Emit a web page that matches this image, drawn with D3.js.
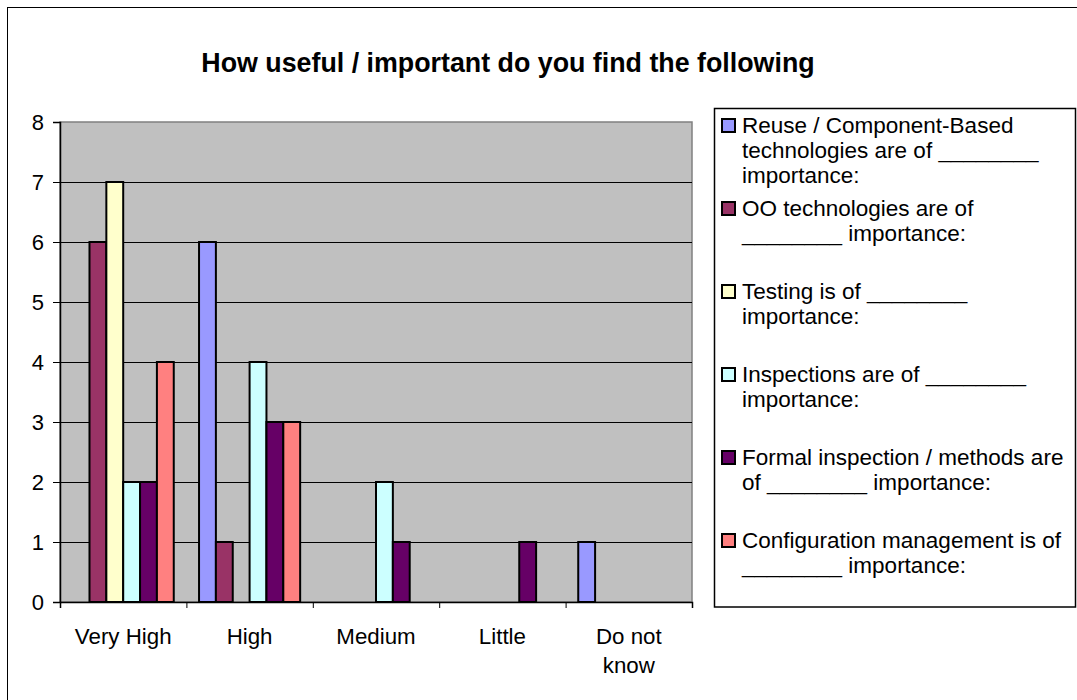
<!DOCTYPE html>
<html>
<head>
<meta charset="utf-8">
<script src="https://cdn.jsdelivr.net/npm/d3@7"></script>
<style>
  html, body { margin: 0; padding: 0; background: #fff; }
  svg { display: block; font-family: "Liberation Sans", Arial, sans-serif; }
</style>
</head>
<body>
<svg id="chart" width="1077" height="700"></svg>
<script>
// ---- data ----
const categories = ["Very High", "High", "Medium", "Little", "Do not know"];
const categoryLabelLines = [["Very High"], ["High"], ["Medium"], ["Little"], ["Do not", "know"]];
const seriesNames = [
  "Reuse / Component-Based technologies are of ________ importance:",
  "OO technologies are of ________ importance:",
  "Testing is of ________ importance:",
  "Inspections are of ________ importance:",
  "Formal inspection / methods are of ________ importance:",
  "Configuration management is of ________ importance:"
];
const legendLines = [
  ["Reuse / Component-Based", "technologies are of ________", "importance:"],
  ["OO technologies are of", "________ importance:"],
  ["Testing is of ________", "importance:"],
  ["Inspections are of ________", "importance:"],
  ["Formal inspection / methods are", "of ________ importance:"],
  ["Configuration management is of", "________ importance:"]
];
const reuseValues       = [0, 6, 0, 0, 1];
const ooValues          = [6, 1, 0, 0, 0];
const testingValues     = [7, 0, 0, 0, 0];
const inspectionValues  = [2, 4, 2, 0, 0];
const formalValues      = [2, 3, 1, 1, 0];
const configValues      = [4, 3, 0, 0, 0];
const seriesValues = [reuseValues, ooValues, testingValues, inspectionValues, formalValues, configValues];
const seriesColors = ["#9999FF", "#993366", "#FFFFCC", "#CCFFFF", "#660066", "#FF8080"];
const yTicks = [0, 1, 2, 3, 4, 5, 6, 7, 8];
const titleText = "How useful / important do you find the following";

// ---- layout ----
const svg = d3.select("#chart");
const plot = { left: 60, right: 692, top: 122, bottom: 602 };

// outer chart border
svg.append("rect").attr("x", 7.5).attr("y", 7.5).attr("width", 1080).attr("height", 700)
  .attr("fill", "#fff").attr("stroke", "#000").attr("stroke-width", 1);

// title
svg.append("text").attr("x", 508).attr("y", 72).attr("text-anchor", "middle")
  .attr("font-size", 26.8).attr("font-weight", "bold").attr("fill", "#000").text(titleText);

// scales
const x0 = d3.scaleBand().domain(categories).range([plot.left, plot.right]).paddingInner(0).paddingOuter(0);
const x1 = d3.scaleBand().domain(d3.range(seriesNames.length)).range([0, x0.bandwidth()])
  .paddingInner(0).paddingOuter(0.75);
const y = d3.scaleLinear().domain([0, 8]).range([plot.bottom, plot.top]);

// plot background
svg.append("rect").attr("x", plot.left).attr("y", plot.top)
  .attr("width", plot.right - plot.left).attr("height", plot.bottom - plot.top)
  .attr("fill", "#C0C0C0").attr("stroke", "#808080").attr("stroke-width", 1.5);

// gridlines
svg.append("g").selectAll("line").data(yTicks.filter(t => t > 0 && t < 8)).join("line")
  .attr("x1", plot.left).attr("x2", plot.right)
  .attr("y1", d => Math.round(y(d)) + 0.5).attr("y2", d => Math.round(y(d)) + 0.5)
  .attr("stroke", "#000").attr("stroke-width", 1);

// bars
const barData = [];
seriesValues.forEach((vals, si) => vals.forEach((v, ci) => {
  if (v > 0) barData.push({ si, ci, v });
}));
svg.append("g").selectAll("rect").data(barData).join("rect")
  .attr("x", d => x0(categories[d.ci]) + x1(d.si))
  .attr("width", x1.bandwidth())
  .attr("y", d => y(d.v))
  .attr("height", d => y(0) - y(d.v))
  .attr("fill", d => seriesColors[d.si])
  .attr("stroke", "#000").attr("stroke-width", 2);

// y axis
const yAxis = d3.axisLeft(y).tickValues(yTicks).tickSize(7).tickFormat(d3.format("d"));
const gy = svg.append("g").attr("transform", `translate(${plot.left},0)`).call(yAxis);
gy.select(".domain").attr("stroke", "#000").attr("stroke-width", 1.5);
gy.selectAll(".tick line").attr("stroke", "#000");
gy.selectAll(".tick text").attr("font-size", 22).attr("font-family", "Liberation Sans, Arial, sans-serif")
  .attr("fill", "#000").attr("x", -16);

// x axis
const xAxis = d3.axisBottom(d3.scaleLinear().domain([0, categories.length]).range([plot.left, plot.right]))
  .tickValues(d3.range(categories.length + 1)).tickSize(6).tickFormat("");
const gx = svg.append("g").attr("transform", `translate(0,${plot.bottom})`).call(xAxis);
gx.select(".domain").attr("stroke", "#000").attr("stroke-width", 1.5);
gx.selectAll(".tick line").attr("stroke", "#000");

// category labels
const catG = svg.append("g").selectAll("text").data(categories).join("text")
  .attr("x", d => x0(d) + x0.bandwidth() / 2)
  .attr("y", 644)
  .attr("text-anchor", "middle").attr("font-size", 22.3).attr("fill", "#000");
catG.each(function (d, i) {
  d3.select(this).selectAll("tspan").data(categoryLabelLines[i]).join("tspan")
    .attr("x", x0(d) + x0.bandwidth() / 2)
    .attr("dy", (l, j) => j === 0 ? 0 : 29)
    .text(l => l);
});

// legend
svg.append("rect").attr("x", 714.5).attr("y", 108.5).attr("width", 361).attr("height", 498.5)
  .attr("fill", "#fff").attr("stroke", "#000").attr("stroke-width", 1.5);
const legendBase = d3.scaleLinear().domain([0, seriesNames.length - 1]).range([133, 548]);
const lg = svg.append("g").selectAll("g").data(seriesNames).join("g");
lg.append("rect")
  .attr("x", 722).attr("y", (d, i) => legendBase(i) - 14)
  .attr("width", 13).attr("height", 13)
  .attr("fill", (d, i) => seriesColors[i]).attr("stroke", "#000").attr("stroke-width", 2);
lg.append("text")
  .attr("x", 742).attr("y", (d, i) => legendBase(i))
  .attr("font-size", 22.5).attr("fill", "#000")
  .each(function (d, i) {
    d3.select(this).selectAll("tspan").data(legendLines[i]).join("tspan")
      .attr("x", 742).attr("dy", (l, j) => j === 0 ? 0 : 25).text(l => l);
  });
</script>
</body>
</html>
